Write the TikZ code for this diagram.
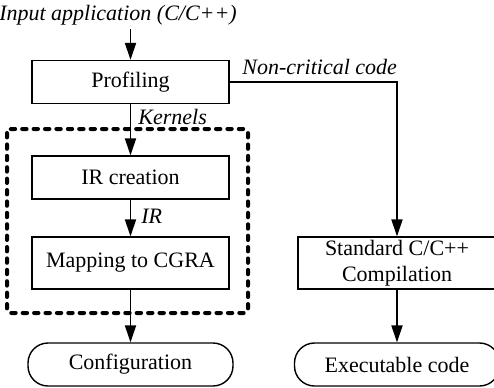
\documentclass[tikz,border=0pt]{standalone}
\usepackage{fontspec}
\setmainfont{Liberation Serif}
\usetikzlibrary{arrows.meta}

\begin{document}
\begin{tikzpicture}[x=0.5pt,y=-0.5pt,
    font=\fontsize{11}{13}\selectfont,
    >={Triangle[length=8.5pt,width=5.6pt]},
    proc/.style={draw,line width=0.7pt,minimum width=98.5pt,minimum height=21.5pt,inner sep=1pt},
    term/.style={draw,line width=0.7pt,rounded corners=10pt,minimum width=102.5pt,minimum height=21.5pt,inner sep=1pt},
    lbl/.style={font=\fontsize{11}{13}\selectfont\itshape,inner sep=0pt}]

    \useasboundingbox (0,0) rectangle (494,387);

    % group around the CGRA part
    \draw[line width=2pt,dash pattern=on 2.2pt off 3.5pt,line cap=round,rounded corners=2pt] (7,129) rectangle (248,313);

    \node[lbl,anchor=base] (input) at (118,20) {Input application (C/C++)};
    \node[proc] (prof) at (130.5,82) {Profiling};
    \node[proc] (ir) at (130.5,177.5) {IR creation};
    \node[proc,minimum height=26pt] (map) at (130.5,263) {Mapping to CGRA};
    \node[term] (config) at (130.5,364.5) {Configuration};

    \node[proc,minimum width=99pt,minimum height=26pt,align=center] (std) at (397,263) {Standard C/C++\\Compilation};
    \node[term] (exec) at (397,364.5) {Executable code};

    \node[lbl,anchor=base west] (kern) at (138,124) {Kernels};
    \node[lbl,anchor=base west] (irlbl) at (141,223) {IR};
    \node[lbl,anchor=base west] (noncrit) at (242,74) {Non-critical code};

    \draw[line width=0.7pt,->] ([yshift=-2pt]input.south -| prof.north) -- (prof.north);
    \draw[line width=0.7pt,->] (prof) -- (ir);
    \draw[line width=0.7pt,->] (ir) -- (map);
    \draw[line width=0.7pt,->] (map) -- (config);
    \draw[line width=0.7pt,->] (prof.east) -| (std.north);
    \draw[line width=0.7pt,->] (std) -- (exec);
\end{tikzpicture}
\end{document}
